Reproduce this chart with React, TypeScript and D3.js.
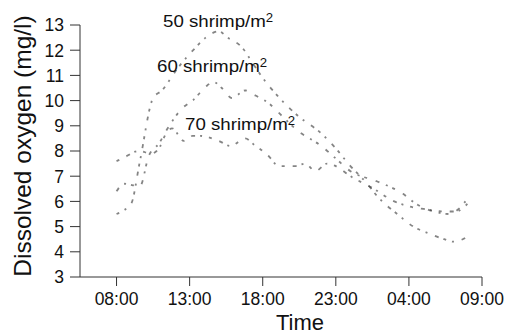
import React from "react";
import * as d3 from "d3";

const yTicks = [3, 4, 5, 6, 7, 8, 9, 10, 11, 12, 13];
const xTicks = [8, 13, 18, 23, 28, 33];
const xTickLabels = ["08:00", "13:00", "18:00", "23:00", "04:00", "09:00"];

const hours50 = [8, 8.5, 9, 9.6, 10.5, 11.1, 12.2, 13.4, 14.1, 15, 15.6, 16.6, 17.3, 18, 19, 20.4, 22, 23, 24, 25, 26, 27.2, 28.3, 29.5, 30.4, 31.1, 32];
const do50 = [5.5, 5.65, 5.9, 7.6, 10.1, 10.4, 11.3, 12.1, 12.5, 12.75, 12.5, 12.1, 11.5, 10.9, 10.2, 9.4, 8.7, 8.1, 7.4, 6.8, 6.1, 5.5, 5.0, 4.7, 4.5, 4.4, 4.6];

const hours60 = [8, 8.5, 9.6, 10.2, 10.9, 11.5, 12.5, 13.2, 14.2, 14.6, 15.2, 15.9, 16.8, 17.5, 18.4, 19.3, 20.4, 22, 23, 24, 25.8, 27.6, 28.5, 29.7, 30.8, 31.4, 32];
const do60 = [6.4, 6.7, 6.6, 7.8, 8.3, 8.9, 9.7, 10.0, 10.6, 10.75, 10.5, 10.1, 10.4, 10.2, 9.9, 9.4, 8.8, 8.2, 7.7, 7.2, 6.8, 6.3, 5.9, 5.6, 5.5, 5.7, 6.1];

const hours70 = [8, 8.4, 9.5, 10.4, 11, 11.3, 11.8, 12.6, 13.2, 13.7, 15, 15.8, 16.8, 17.5, 18, 18.4, 19.1, 20.2, 20.9, 21.6, 22.4, 23, 24, 25.6, 27, 28, 29, 30.4, 31.2, 32];
const do70 = [7.6, 7.7, 8.0, 7.9, 8.2, 8.6, 8.9, 8.4, 8.6, 8.6, 8.4, 8.2, 8.5, 8.2, 8.0, 7.8, 7.4, 7.4, 7.5, 7.2, 7.5, 7.4, 7.0, 6.5, 6.0, 5.8, 5.7, 5.6, 5.6, 5.9];

const seriesLabels = ["50", "60", "70"];

export default function App() {
  const x = d3.scaleLinear().domain([5.5, 33]).range([80, 482]);
  const y = d3.scaleLinear().domain([3, 13]).range([277, 25]);
  const line = d3
    .line<[number, number]>()
    .x((d) => x(d[0]))
    .y((d) => y(d[1]))
    .curve(d3.curveMonotoneX);

  const series = [
    { name: seriesLabels[0], pts: hours50.map((h, i) => [h, do50[i]] as [number, number]), dash: "3 6 2 8 4 5" },
    { name: seriesLabels[1], pts: hours60.map((h, i) => [h, do60[i]] as [number, number]), dash: "4 7 2 5 3 9" },
    { name: seriesLabels[2], pts: hours70.map((h, i) => [h, do70[i]] as [number, number]), dash: "3 8 4 5 2 7" },
  ];

  const labelPos = [
    { x: 163, y: 27 },
    { x: 157, y: 72 },
    { x: 185, y: 130 },
  ];

  const font = "'Liberation Sans', Arial, sans-serif";

  return (
    <svg
      width={506}
      height={334}
      style={{ position: "absolute", left: 0, top: 0, background: "#fff" }}
      fontFamily={font}
    >
      <defs>
        <filter id="soft" x="-5%" y="-5%" width="110%" height="110%">
          <feGaussianBlur stdDeviation="0.6" />
        </filter>
      </defs>
      <rect x={0} y={0} width={506} height={334} fill="#fff" />
      <g filter="url(#soft)">
        {series.map((s) => (
          <path
            key={s.name}
            d={line(s.pts) || ""}
            fill="none"
            stroke="#333"
            strokeOpacity={0.6}
            strokeWidth={1.8}
            strokeDasharray={s.dash}
          />
        ))}
      </g>
      <line x1={80} x2={80} y1={y(13)} y2={y(3)} stroke="#333" strokeWidth={1} />
      <line x1={80} x2={x(33)} y1={y(3)} y2={y(3)} stroke="#333" strokeWidth={1} />
      {yTicks.map((t) => (
        <g key={"y" + t}>
          <line x1={70} x2={80} y1={y(t)} y2={y(t)} stroke="#333" />
          <text x={64} y={y(t)} dy="0.36em" textAnchor="end" fontSize={17.5} fill="#111">
            {t}
          </text>
        </g>
      ))}
      {xTicks.map((t, i) => (
        <g key={"x" + t}>
          <line x1={x(t)} x2={x(t)} y1={y(3)} y2={y(3) + 9} stroke="#333" />
          <text x={x(t)} y={305} textAnchor="middle" fontSize={17.5} fill="#111">
            {xTickLabels[i]}
          </text>
        </g>
      ))}
      <text x={300} y={330} textAnchor="middle" fontSize={22} fill="#111">
        Time
      </text>
      <text
        transform={`translate(31,${146}) rotate(-90)`}
        textAnchor="middle"
        fontSize={24.5}
        fill="#111"
      >
        Dissolved oxygen (mg/l)
      </text>
      {series.map((s, i) => (
        <text
          key={"l" + s.name}
          transform={`translate(${labelPos[i].x},${labelPos[i].y}) scale(1.1,1)`}
          fontSize={17}
          fill="#111"
        >
          {s.name} shrimp/m
          <tspan fontSize={12} dy={-5}>2</tspan>
        </text>
      ))}
    </svg>
  );
}
